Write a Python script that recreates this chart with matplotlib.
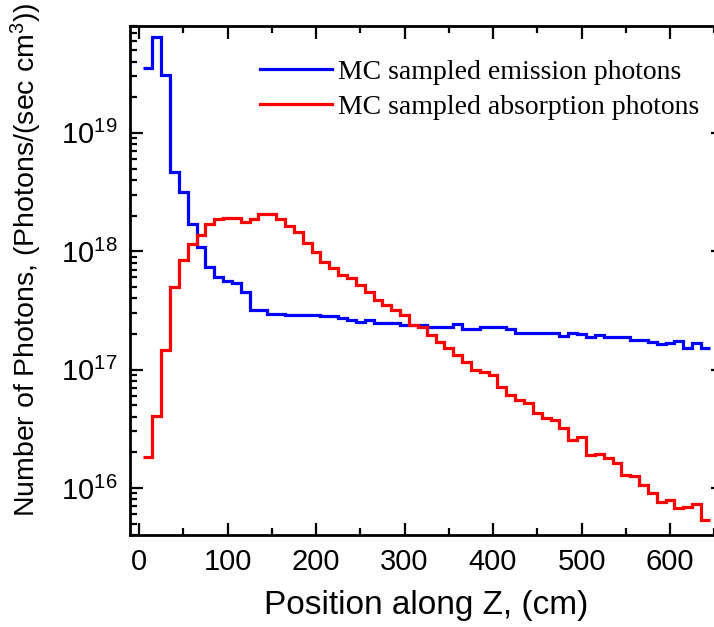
import numpy as np
import matplotlib.pyplot as plt
from matplotlib.ticker import LogLocator, MultipleLocator, NullFormatter

plt.rcParams['font.family'] = ['Liberation Sans', 'DejaVu Sans']
plt.rcParams['mathtext.default'] = 'regular'

# 10 cm bins along Z, centres in cm
z_cm = np.arange(10, 650, 10)

# photons / (sec cm^3) per bin
emission = [
    3.54e19, 6.47e19, 3.09e19, 4.68e18, 3.17e18, 1.70e18, 1.09e18, 7.38e17,
    6.07e17, 5.61e17, 5.40e17, 4.49e17, 3.19e17, 3.19e17, 2.95e17, 2.95e17,
    2.87e17, 2.87e17, 2.87e17, 2.87e17, 2.81e17, 2.81e17, 2.73e17, 2.63e17,
    2.54e17, 2.63e17, 2.47e17, 2.47e17, 2.47e17, 2.39e17, 2.39e17, 2.39e17,
    2.31e17, 2.28e17, 2.28e17, 2.43e17, 2.19e17, 2.19e17, 2.28e17, 2.28e17,
    2.28e17, 2.19e17, 2.05e17, 2.05e17, 2.05e17, 2.05e17, 2.05e17, 1.92e17,
    2.05e17, 2.00e17, 1.88e17, 1.95e17, 1.90e17, 1.90e17, 1.90e17, 1.78e17,
    1.78e17, 1.72e17, 1.65e17, 1.69e17, 1.76e17, 1.52e17, 1.67e17, 1.52e17,
]
absorption = [
    1.83e16, 4.06e16, 1.47e17, 5.00e17, 8.46e17, 1.15e18, 1.37e18, 1.70e18,
    1.86e18, 1.90e18, 1.90e18, 1.78e18, 1.88e18, 2.07e18, 2.07e18, 1.86e18,
    1.65e18, 1.44e18, 1.18e18, 9.87e17, 8.17e17, 7.19e17, 6.31e17, 5.92e17,
    5.19e17, 4.56e17, 3.88e17, 3.52e17, 3.19e17, 2.90e17, 2.39e17, 2.31e17,
    1.96e17, 1.72e17, 1.52e17, 1.33e17, 1.17e17, 9.93e16, 9.62e16, 9.02e16,
    7.18e16, 6.11e16, 5.54e16, 5.20e16, 4.28e16, 3.88e16, 3.76e16, 3.19e16,
    2.54e16, 2.71e16, 1.88e16, 1.95e16, 1.78e16, 1.62e16, 1.29e16, 1.25e16,
    1.06e16, 9.00e15, 7.66e15, 7.92e15, 6.74e15, 6.95e15, 7.33e15, 5.36e15,
]

edges = np.append(z_cm - 5, z_cm[-1] + 5)

fig = plt.figure(figsize=(7.14, 6.27), dpi=100)
ax = fig.add_axes([0.1823, 0.1467, 0.8305, 0.8118])

ax.stairs(emission, edges, baseline=None, color='#0000ff', lw=2.3,
          label='MC sampled emission photons')
ax.stairs(absorption, edges, baseline=None, color='#ff0000', lw=2.3,
          label='MC sampled absorption photons')

ax.set_yscale('log')
ax.set_xlim(-10, 660)
ax.set_ylim(4e15, 8e19)

ax.xaxis.set_major_locator(MultipleLocator(100))
ax.xaxis.set_minor_locator(MultipleLocator(50))
ax.yaxis.set_major_locator(LogLocator(base=10, numticks=10))
ax.yaxis.set_minor_locator(LogLocator(base=10, subs=np.arange(2, 10), numticks=20))
ax.yaxis.set_minor_formatter(NullFormatter())

ax.tick_params(which='both', direction='in', top=True, right=True, width=1.6,
               labelsize=21, pad=9)
ax.tick_params(which='major', length=9)
ax.tick_params(which='minor', length=5)
for s in ax.spines.values():
    s.set_linewidth(2.0)

ax.set_xlabel('Position along Z, (cm)', fontsize=24)
ax.set_ylabel('Number of Photons, (Photons/(sec cm$^3$))', fontsize=20.5)
ax.xaxis.set_label_coords(0.5, -0.108)
ax.yaxis.set_label_coords(-0.146, 0.54)

ax.legend(loc='upper left', bbox_to_anchor=(0.219, 0.935), frameon=False,
          prop={'family': 'Liberation Serif', 'size': 20},
          handlelength=2.6, handletextpad=0.22, labelspacing=0.35,
          borderpad=0, borderaxespad=0)

fig.savefig('out.png', dpi=100)
